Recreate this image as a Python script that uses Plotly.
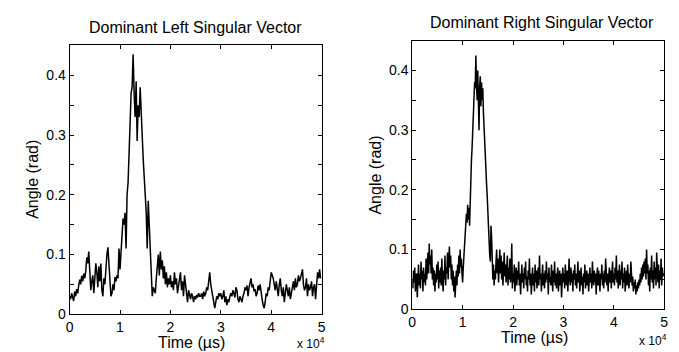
import numpy as np
import plotly.graph_objects as go

# ---------------- data ----------------
left_step = 200   # µs between samples (left panel)
right_step = 125  # µs between samples (right panel)

left_angle = [
    0.030, 0.025, 0.035, 0.028, 0.022, 0.038, 0.030, 0.042, 0.035, 0.048,
    0.058, 0.050, 0.064, 0.055, 0.068, 0.060, 0.072, 0.095, 0.085, 0.105,
    0.078, 0.040, 0.055, 0.065, 0.035, 0.060, 0.085, 0.070, 0.045, 0.080,
    0.055, 0.085, 0.040, 0.030, 0.060, 0.050, 0.080, 0.100, 0.112, 0.085,
    0.040, 0.030, 0.035, 0.050, 0.040, 0.062, 0.055, 0.065, 0.060, 0.110,
    0.075, 0.100, 0.130, 0.160, 0.150, 0.170, 0.110, 0.200, 0.220, 0.270,
    0.320, 0.370, 0.380, 0.435, 0.370, 0.330, 0.390, 0.290, 0.350, 0.330,
    0.380, 0.330, 0.300, 0.260, 0.230, 0.200, 0.170, 0.110, 0.190, 0.150,
    0.100, 0.050, 0.030, 0.045, 0.040, 0.035, 0.060, 0.080, 0.100, 0.065,
    0.105, 0.075, 0.090, 0.060, 0.080, 0.050, 0.070, 0.045, 0.060, 0.050,
    0.065, 0.045, 0.055, 0.040, 0.070, 0.050, 0.060, 0.035, 0.045, 0.060,
    0.070, 0.040, 0.055, 0.030, 0.065, 0.050, 0.035, 0.020, 0.040, 0.030,
    0.025, 0.035, 0.030, 0.020, 0.030, 0.025, 0.032, 0.028, 0.035, 0.030,
    0.030, 0.035, 0.025, 0.038, 0.030, 0.035, 0.045, 0.040, 0.055, 0.070,
    0.050, 0.040, 0.025, 0.015, 0.010, 0.020, 0.030, 0.025, 0.035, 0.030,
    0.035, 0.025, 0.030, 0.040, 0.020, 0.030, 0.015, 0.025, 0.020, 0.030,
    0.035, 0.030, 0.040, 0.035, 0.028, 0.045, 0.040, 0.025, 0.020, 0.030,
    0.025, 0.020, 0.030, 0.035, 0.045, 0.040, 0.048, 0.030, 0.045, 0.055,
    0.060, 0.045, 0.050, 0.038, 0.042, 0.030, 0.035, 0.048, 0.040, 0.050,
    0.030, 0.025, 0.015, 0.010, 0.020, 0.035, 0.030, 0.045, 0.040, 0.055,
    0.070, 0.065, 0.060, 0.050, 0.040, 0.055, 0.045, 0.030, 0.050, 0.060,
    0.040, 0.030, 0.045, 0.020, 0.035, 0.050, 0.040, 0.030, 0.045, 0.025,
    0.035, 0.045, 0.055, 0.040, 0.060, 0.045, 0.050, 0.065, 0.055, 0.060,
    0.070, 0.075, 0.050, 0.040, 0.045, 0.060, 0.030, 0.050, 0.040, 0.045,
    0.055, 0.030, 0.045, 0.050, 0.025, 0.060, 0.070, 0.060, 0.075, 0.060,
]

right_angle = [
    0.05, 0.035, 0.065, 0.045, 0.07, 0.03, 0.055, 0.06, 0.02, 0.05,
    0.075, 0.04, 0.06, 0.035, 0.08, 0.05, 0.065, 0.03, 0.07, 0.045,
    0.06, 0.04, 0.085, 0.05, 0.07, 0.095, 0.06, 0.11, 0.075, 0.09,
    0.06, 0.1, 0.05, 0.07, 0.04, 0.065, 0.03, 0.06, 0.045, 0.075,
    0.05, 0.08, 0.035, 0.065, 0.045, 0.07, 0.04, 0.085, 0.055, 0.03,
    0.065, 0.05, 0.09, 0.04, 0.07, 0.06, 0.095, 0.05, 0.08, 0.105,
    0.07, 0.09, 0.05, 0.075, 0.04, 0.065, 0.03, 0.055, 0.02, 0.05,
    0.065, 0.04, 0.075, 0.055, 0.09, 0.06, 0.1, 0.07, 0.085, 0.06,
    0.045, 0.07, 0.09, 0.1, 0.12, 0.14, 0.16, 0.145, 0.175, 0.15,
    0.17, 0.14, 0.2, 0.22, 0.25, 0.27, 0.3, 0.33, 0.36, 0.38,
    0.37, 0.425, 0.38, 0.35, 0.4, 0.31, 0.3, 0.37, 0.39, 0.34,
    0.38, 0.35, 0.37, 0.33, 0.3, 0.28, 0.26, 0.24, 0.21, 0.19,
    0.16, 0.14, 0.12, 0.09, 0.08, 0.14, 0.12, 0.06, 0.05, 0.075,
    0.04, 0.065, 0.05, 0.08, 0.1, 0.06, 0.085, 0.045, 0.075, 0.1,
    0.06, 0.09, 0.05, 0.08, 0.04, 0.07, 0.095, 0.055, 0.075, 0.045,
    0.065, 0.09, 0.04, 0.07, 0.05, 0.085, 0.045, 0.06, 0.11, 0.035,
    0.06, 0.045, 0.075, 0.03, 0.055, 0.07, 0.04, 0.065, 0.05, 0.08,
    0.04, 0.06, 0.025, 0.055, 0.075, 0.045, 0.06, 0.035, 0.07, 0.05,
    0.08, 0.04, 0.055, 0.03, 0.065, 0.05, 0.085, 0.04, 0.06, 0.025,
    0.05, 0.07, 0.04, 0.06, 0.03, 0.075, 0.045, 0.065, 0.035, 0.055,
    0.07, 0.04, 0.09, 0.05, 0.06, 0.03, 0.055, 0.075, 0.04, 0.06,
    0.035, 0.065, 0.045, 0.08, 0.05, 0.06, 0.025, 0.07, 0.045, 0.055,
    0.04, 0.075, 0.05, 0.03, 0.065, 0.045, 0.08, 0.04, 0.06, 0.035,
    0.055, 0.07, 0.03, 0.05, 0.065, 0.04, 0.06, 0.02, 0.05, 0.07,
    0.045, 0.06, 0.035, 0.075, 0.05, 0.04, 0.065, 0.03, 0.055, 0.085,
    0.05, 0.04, 0.07, 0.045, 0.06, 0.03, 0.065, 0.05, 0.075, 0.04,
    0.06, 0.035, 0.055, 0.08, 0.045, 0.065, 0.03, 0.05, 0.07, 0.04,
    0.055, 0.025, 0.06, 0.045, 0.075, 0.035, 0.05, 0.065, 0.04, 0.06,
    0.03, 0.055, 0.07, 0.045, 0.06, 0.035, 0.08, 0.05, 0.04, 0.065,
    0.045, 0.06, 0.025, 0.055, 0.07, 0.04, 0.065, 0.05, 0.03, 0.06,
    0.05, 0.075, 0.04, 0.06, 0.035, 0.065, 0.045, 0.085, 0.05, 0.04,
    0.06, 0.03, 0.055, 0.07, 0.045, 0.065, 0.035, 0.055, 0.08, 0.045,
    0.06, 0.04, 0.07, 0.05, 0.09, 0.045, 0.065, 0.035, 0.06, 0.075,
    0.04, 0.065, 0.05, 0.08, 0.035, 0.06, 0.045, 0.07, 0.03, 0.055,
    0.065, 0.04, 0.075, 0.05, 0.035, 0.06, 0.045, 0.08, 0.05, 0.04,
    0.055, 0.03, 0.045, 0.035, 0.05, 0.025, 0.04, 0.03, 0.045, 0.035,
    0.05, 0.04, 0.06, 0.045, 0.07, 0.05, 0.075, 0.055, 0.08, 0.06,
    0.085, 0.05, 0.1, 0.06, 0.075, 0.04, 0.065, 0.03, 0.07, 0.05,
    0.09, 0.045, 0.065, 0.035, 0.08, 0.05, 0.07, 0.04, 0.095, 0.06,
    0.045, 0.075, 0.035, 0.065, 0.05, 0.085, 0.04, 0.07, 0.055, 0.06,
]

left_time = np.arange(len(left_angle)) * left_step
right_time = np.arange(len(right_angle)) * right_step

titles = ["Dominant Left Singular Vector", "Dominant Right Singular Vector"]
x_tickvals = [0, 10000, 20000, 30000, 40000, 50000]
x_ticktext = ["0", "1", "2", "3", "4", "5"]
y_tickvals = [0, 0.05, 0.1, 0.15, 0.2, 0.25, 0.3, 0.35, 0.4, 0.45]
y_ticktext = ["0", "", "0.1", "", "0.2", "", "0.3", "", "0.4", ""]

# ---------------- figure ----------------
W, H = 679, 352
FONT = "Liberation Sans, Arial, Helvetica, sans-serif"

fig = go.Figure()
fig.add_trace(go.Scatter(x=left_time, y=left_angle, mode="lines",
                         line=dict(color="black", width=1.5),
                         xaxis="x", yaxis="y", showlegend=False))
fig.add_trace(go.Scatter(x=right_time, y=right_angle, mode="lines",
                         line=dict(color="black", width=1.5),
                         xaxis="x2", yaxis="y2", showlegend=False))

# panel boxes in pixels: (left, right, top, bottom)
boxes = [(58.3, 313.3, 38.3, 313.3), (405.0, 660.0, 33.3, 308.3)]

def xd(b):
    return [b[0] / W, b[1] / W]

def yd(b):
    return [1 - b[3] / H, 1 - b[2] / H]

axis_common = dict(showline=True, linecolor="black", linewidth=1, mirror="allticks",
                   ticks="inside", ticklen=4, tickcolor="black", showgrid=False,
                   zeroline=False, tickfont=dict(family=FONT, size=14, color="black"))

layout = dict(
    width=W, height=H, margin=dict(l=0, r=0, t=0, b=0),
    paper_bgcolor="white", plot_bgcolor="white",
    font=dict(family=FONT, color="black"),
)
for i, b in enumerate(boxes):
    sx = "" if i == 0 else "2"
    layout["xaxis" + sx] = dict(domain=xd(b), range=[0, 50000], tickvals=x_tickvals,
                               ticktext=x_ticktext, anchor="y" + sx, **axis_common)
    layout["yaxis" + sx] = dict(domain=yd(b), range=[0, 0.45], tickvals=y_tickvals,
                               ticktext=y_ticktext, anchor="x" + sx, **axis_common)
fig.update_layout(**layout)

ann = []
exp_dy = [30, 31]
for i, b in enumerate(boxes):
    cx = (b[0] + b[1]) / 2
    # title
    ann.append(dict(text=titles[i], x=cx / W + (0.0 if i == 0 else 0.006),
                    y=1 - (b[2] - 18) / H, xref="paper", yref="paper",
                    xanchor="center", yanchor="middle", showarrow=False,
                    font=dict(family=FONT, size=16)))
    # x title
    ann.append(dict(text="Time (µs)", x=(cx - 4) / W, y=1 - (b[3] + 28.5) / H,
                    xref="paper", yref="paper", xanchor="center", yanchor="middle",
                    showarrow=False, font=dict(family=FONT, size=16)))
    # exponent
    ann.append(dict(text="x 10<sup>4</sup>", x=(b[1] - 11) / W, y=1 - (b[3] + exp_dy[i]) / H,
                    xref="paper", yref="paper", xanchor="center", yanchor="middle",
                    showarrow=False, font=dict(family=FONT, size=12)))
    # y title
    ann.append(dict(text="Angle (rad)", x=(b[0] - 37) / W, y=1 - ((b[2] + b[3]) / 2) / H,
                    xref="paper", yref="paper", xanchor="center", yanchor="middle",
                    textangle=-90, showarrow=False, font=dict(family=FONT, size=16)))
fig.update_layout(annotations=ann)

fig.write_html("out.html")
